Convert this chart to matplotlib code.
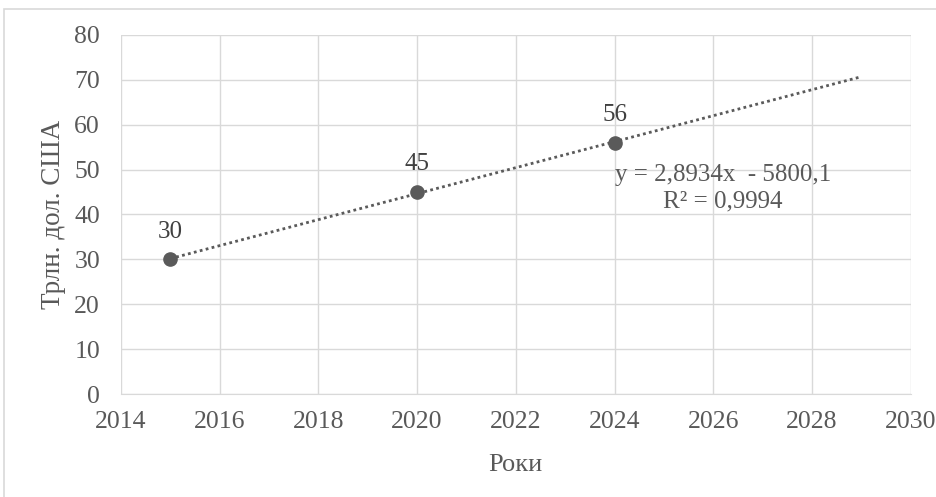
import matplotlib
matplotlib.use('Agg')
import matplotlib.pyplot as plt
import numpy as np
from matplotlib.patches import Rectangle

C_TEXT = '#595959'
C_GRID = '#d9d9d9'
C_MARK = '#5a5a5a'

plt.rcParams.update({
    'font.family': 'serif',
    'font.serif': ['Liberation Serif', 'DejaVu Serif'],
    'font.size': 18,
    'text.color': C_TEXT,
})

# data
years = [2015, 2020, 2024]
values = [30, 45, 56]
value_labels = ['30', '45', '56']
trend_end = 2029
x_ticks = [2014, 2016, 2018, 2020, 2022, 2024, 2026, 2028, 2030]
y_ticks = [0, 10, 20, 30, 40, 50, 60, 70, 80]
eq_text = 'y = 2,8934x  - 5800,1\nR² = 0,9994'

fig = plt.figure(figsize=(9.37, 4.97), dpi=100)
ax = fig.add_axes([0.129, 0.207, 0.843, 0.723])

# linear trend, carried on to trend_end
k, b = np.polyfit(years, values, 1)
tx = np.array([years[0], trend_end])
ax.plot(tx, k * tx + b, color=C_MARK, lw=2, linestyle=(0, (1, 1.2)), zorder=3)

ax.plot(years, values, 'o', color=C_MARK, markersize=9.5, zorder=4)
for x, y, s in zip(years, values, value_labels):
    ax.annotate(s, (x, y), xytext=(0, 12), textcoords='offset points',
                ha='center', va='bottom', fontsize=18, color='#404040')

ax.text(2026.2, 45.9, eq_text, ha='center', va='center', fontsize=18,
        color=C_TEXT, linespacing=1.25)

ax.set_xlim(2014, 2030)
ax.set_ylim(0, 80)
ax.set_xticks(x_ticks)
ax.set_yticks(y_ticks)
ax.grid(True, color=C_GRID, lw=1)
ax.set_axisbelow(True)
for side in ['top', 'right', 'left']:
    ax.spines[side].set_visible(False)
ax.spines['bottom'].set_color(C_GRID)
ax.tick_params(length=0, labelcolor=C_TEXT, labelsize=18.5)
ax.tick_params(axis='x', pad=12)
ax.tick_params(axis='y', pad=15)
ax.set_xlabel('Роки', color=C_TEXT, fontsize=19, labelpad=15)
ax.set_ylabel('Трлн. дол. США', color=C_TEXT, fontsize=19.5, labelpad=6)

# chart frame
fig.patches.append(Rectangle((4 / 937, -0.1), 1.2, 1.1 - 9 / 497,
                             transform=fig.transFigure, fill=False,
                             edgecolor='#d9d9d9', lw=1.2))

fig.savefig('out.png', dpi=100)
